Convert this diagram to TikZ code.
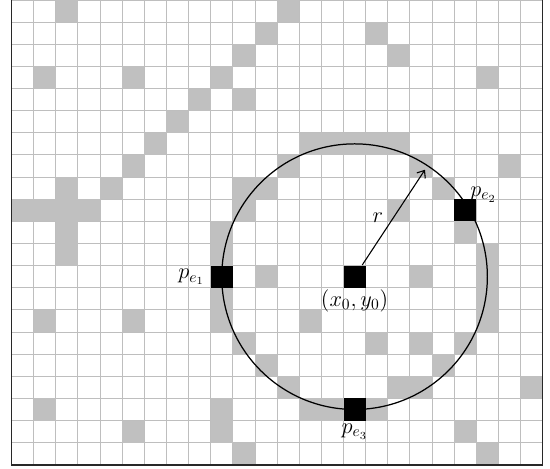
\documentclass[tikz,border=0pt]{standalone}
\usepackage{tikz}
\usetikzlibrary{positioning, arrows.meta}
\definecolor{cellgray}{RGB}{192,192,192}
\definecolor{gridgray}{RGB}{190,190,190}
\definecolor{frame}{RGB}{40,40,40}

\begin{document}
\begin{tikzpicture}[x=0.5cm, y=0.5cm, line width=0.8pt,
    edgepix/.style={fill=black, draw=none, minimum size=0.5cm, inner sep=0pt},
    lab/.style={font=\fontsize{14}{16}\selectfont}]
  \useasboundingbox (-0.52,-21.19) rectangle (24.33,0);

  % ---------- grid ----------
  \draw[gridgray, line width=0.6pt, step=0.5cm] (0,-21) grid (24,0);
  \foreach \c/\r in {2/0,12/0, 11/1,16/1, 10/2,17/2, 1/3,5/3,9/3,21/3,
                     8/4,10/4, 7/5, 6/6,13/6,14/6,15/6,16/6,17/6,
                     5/7,12/7,18/7,22/7, 2/8,4/8,10/8,11/8,19/8,
                     0/9,1/9,2/9,3/9,10/9,17/9, 2/10,9/10,20/10,
                     2/11,9/11,21/11, 11/12,18/12,21/12, 9/13,21/13,
                     1/14,5/14,9/14,13/14,21/14, 10/15,16/15,18/15,20/15,
                     11/16,19/16, 12/17,17/17,18/17,23/17,
                     1/18,9/18,13/18,14/18,16/18, 5/19,9/19,20/19,
                     10/20,21/20}{
    \fill[cellgray] (\c,-\r) rectangle ++(1,-1);}
  \draw[frame, line width=1pt] (0,0) -- (0,-21) -- (24,-21) -- (24,0);

  % ---------- circle and edge pixels ----------
  \node[edgepix] (c)   at (15.5,-12.5) {};
  \node[edgepix] (pe1) at (9.5,-12.5)  {};
  \node[edgepix] (pe2) at (20.5,-9.5)  {};
  \node[edgepix] (pe3) at (15.5,-18.5) {};
  \draw (c.center) circle (6);
  \coordinate (rtip) at (18.68,-7.67);
  \draw[-{Straight Barb[length=4pt,width=6.5pt]}, line width=0.7pt]
    (c) -- (rtip) node[lab, midway, left=3pt] (rlab) {$r$};

  % ---------- labels ----------
  \node[lab, left=0pt of pe1] (lpe1) {$p_{e_1}$};
  \node[lab, above right=-6pt and -8pt of pe2] (lpe2) {$p_{e_2}$};
  \node[lab, below=-3pt of c] (lc) {$(x_0,y_0)$};
  \node[lab, below=-2pt of pe3] (lpe3) {$p_{e_3}$};
\end{tikzpicture}
\end{document}
